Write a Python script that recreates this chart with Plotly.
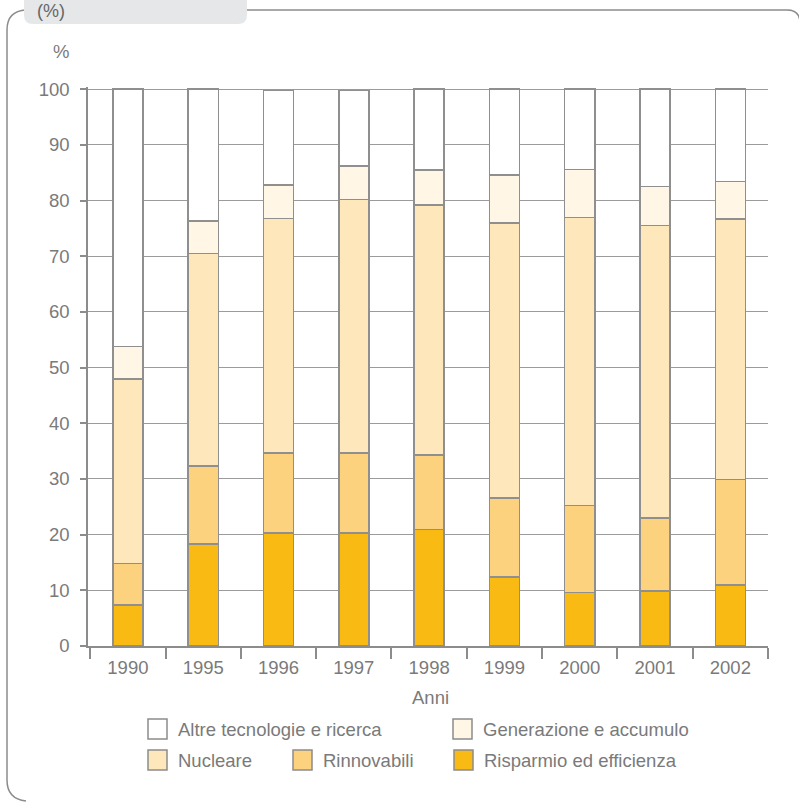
import plotly.graph_objects as go

# Categories (years) and stacked shares (%) per research area
anni = ["1990", "1995", "1996", "1997", "1998", "1999", "2000", "2001", "2002"]
risparmio = [7.4, 18.3, 20.3, 20.3, 20.9, 12.4, 9.6, 9.9, 11.0]
rinnovabili = [7.4, 14.0, 14.4, 14.4, 13.4, 14.2, 15.6, 13.1, 18.9]
nucleare = [33.2, 38.2, 42.1, 45.5, 44.9, 49.4, 51.8, 52.5, 46.8]
generazione = [5.8, 5.8, 6.0, 6.0, 6.3, 8.6, 8.6, 7.0, 6.7]
altre = [46.2, 23.7, 17.0, 13.6, 14.5, 15.4, 14.4, 17.5, 16.6]

nomi = ["Risparmio ed efficienza", "Rinnovabili", "Nucleare",
        "Generazione e accumulo", "Altre tecnologie e ricerca"]
colori = ["#F9BA14", "#FDD27F", "#FEE7BA", "#FFF6E5", "#FFFFFF"]
valori = [risparmio, rinnovabili, nucleare, generazione, altre]

y_ticks = list(range(0, 101, 10))

# Page geometry (pixels)
W, H = 799, 802
L, R = 88, 768
T, B = 87, 646
FONT = "Liberation Sans, Arial, Helvetica, sans-serif"
TXT = "#7a7a7a"
LINE = "#8c8c8c"


def px(x):
    return (x - L) / (R - L)


def py(y):
    return (B - y) / (B - T)


fig = go.Figure()
for nome, serie, colore in zip(nomi, valori, colori):
    fig.add_trace(go.Bar(
        x=anni, y=serie, name=nome, width=0.4,
        marker=dict(color=colore, line=dict(color="#8f8f8f", width=1.5)),
        showlegend=False, hoverinfo="x+y+name",
    ))

shapes = []
annotations = []

# Panel frame with grey tab at the top-left
shapes.append(dict(
    type="path", xref="paper", yref="paper", layer="below",
    path=(f"M {px(247)},{py(10)} L {px(787)},{py(10)} "
          f"Q {px(800)},{py(10)} {px(800)},{py(23)}"),
    line=dict(color=LINE, width=1.5),
))
shapes.append(dict(
    type="path", xref="paper", yref="paper", layer="below",
    path=(f"M {px(26)},{py(10)} Q {px(7)},{py(11)} {px(7)},{py(30)} "
          f"L {px(7)},{py(780)} Q {px(7)},{py(799)} {px(26)},{py(801)}"),
    line=dict(color=LINE, width=1.5),
))
shapes.append(dict(
    type="path", xref="paper", yref="paper", layer="below",
    path=(f"M {px(24)},{py(-5)} L {px(24)},{py(15)} "
          f"Q {px(24)},{py(24)} {px(33)},{py(24)} "
          f"L {px(238)},{py(24)} Q {px(247)},{py(24)} {px(247)},{py(15)} "
          f"L {px(247)},{py(-5)} Z"),
    fillcolor="#E6E7E8", line=dict(width=0),
))
annotations.append(dict(
    text="(%)", xref="paper", yref="paper", x=px(35), y=py(11),
    xanchor="left", yanchor="middle", showarrow=False,
    font=dict(family=FONT, size=18, color="#666666"),
))

# Axis captions
annotations.append(dict(
    text="%", xref="paper", yref="paper", x=px(61), y=py(52),
    xanchor="center", yanchor="middle", showarrow=False,
    font=dict(family=FONT, size=18.5, color=TXT),
))
annotations.append(dict(
    text="Anni", xref="paper", yref="paper", x=px(430), y=py(697),
    xanchor="center", yanchor="middle", showarrow=False,
    font=dict(family=FONT, size=18.5, color=TXT),
))

# Legend: two rows of boxed swatches
voci_legenda = [
    ("Altre tecnologie e ricerca", 148, 719),
    ("Generazione e accumulo", 453, 719),
    ("Nucleare", 148, 750),
    ("Rinnovabili", 293, 750),
    ("Risparmio ed efficienza", 454, 750),
]
colore_di = dict(zip(nomi, colori))
for nome, x0, y0 in voci_legenda:
    shapes.append(dict(
        type="rect", xref="paper", yref="paper",
        x0=px(x0), x1=px(x0 + 19), y0=py(y0), y1=py(y0 + 20),
        fillcolor=colore_di[nome], line=dict(color=LINE, width=1.5),
    ))
    annotations.append(dict(
        text=nome, xref="paper", yref="paper", x=px(x0 + 28), y=py(y0 + 10.5),
        xanchor="left", yanchor="middle", showarrow=False,
        font=dict(family=FONT, size=18.5, color=TXT),
    ))

fig.update_layout(
    barmode="stack",
    width=W, height=H, autosize=False,
    margin=dict(l=L, r=W - R, t=T, b=H - B, pad=0),
    paper_bgcolor="white", plot_bgcolor="white",
    font=dict(family=FONT, size=18.5, color=TXT),
    shapes=shapes, annotations=annotations,
    xaxis=dict(
        type="category", range=[-0.53, 8.5],
        showline=True, linecolor=LINE, linewidth=1.5,
        ticks="outside", tickson="boundaries", ticklen=11,
        tickcolor=LINE, tickwidth=1.5, showgrid=False,
        ticklabelstandoff=4,
        tickfont=dict(family=FONT, size=18.5, color=TXT),
        fixedrange=True,
    ),
    yaxis=dict(
        range=[0, 100.4], tickvals=y_ticks,
        showline=True, linecolor=LINE, linewidth=1.5,
        ticks="outside", ticklen=6, tickcolor=LINE, tickwidth=1.5,
        showgrid=True, gridcolor="#9b9b9b", gridwidth=1.2,
        zeroline=False, ticklabelstandoff=7,
        tickfont=dict(family=FONT, size=18.5, color=TXT),
        fixedrange=True,
    ),
    showlegend=False,
)

fig.write_html("out.html", config=dict(displayModeBar=False))
